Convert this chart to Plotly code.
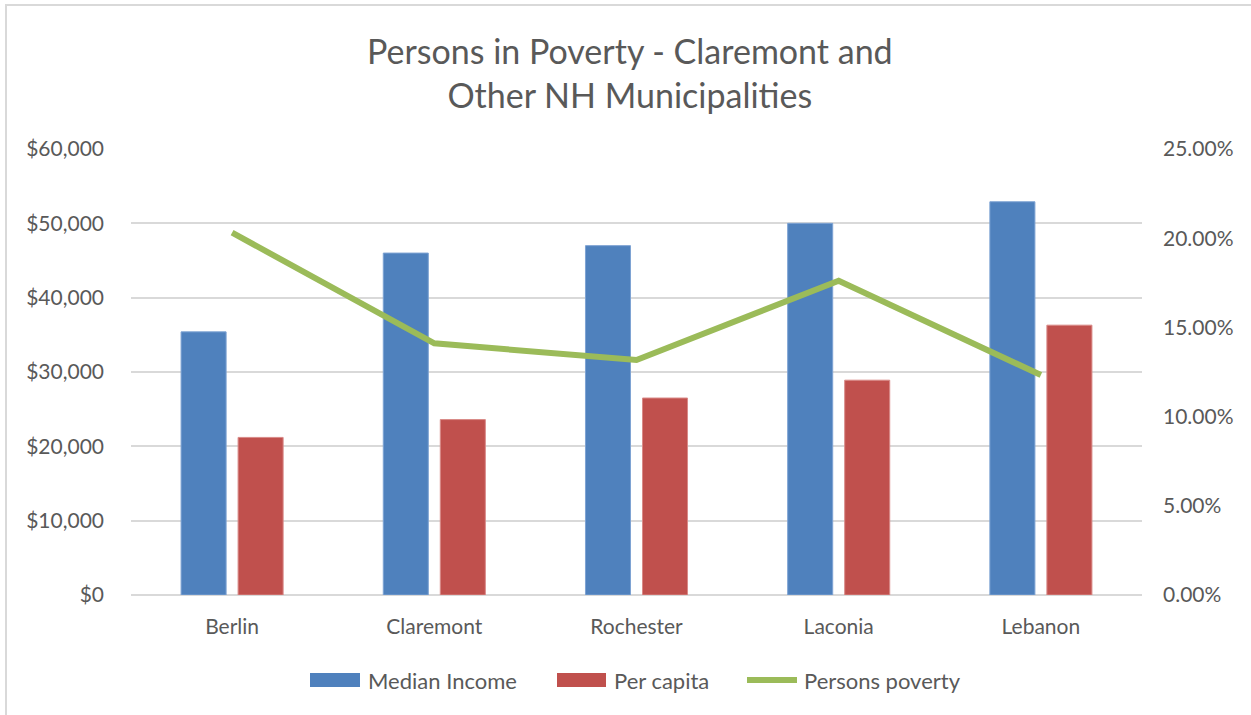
import plotly.graph_objects as go

categories = ["Berlin", "Claremont", "Rochester", "Laconia", "Lebanon"]
median_income = [35400, 46000, 47000, 50000, 52900]
per_capita = [21200, 23600, 26500, 28900, 36300]
persons_poverty = [0.2031, 0.1411, 0.1317, 0.1762, 0.1233]
series_names = ["Median Income", "Per capita", "Persons poverty"]
title_lines = ["Persons in Poverty - Claremont and", "Other NH Municipalities"]

BLUE = "#4F81BD"
RED = "#C0504D"
GREEN = "#9BBB59"
TXT = "#595959"
GRID = "#D9D9D9"
FONT = "Lato"

W, H = 1251, 715
L, R, T, B = 131, 1251 - 1142, 149, 715 - 595
PW, PH = W - L - R, H - T - B


def px(x):
    return (x - L) / PW


def py(y):
    return (H - B - y) / PH


fig = go.Figure()
fig.add_trace(go.Bar(x=categories, y=median_income, name=series_names[0],
                     marker=dict(color=BLUE, line=dict(color="#7EA3D3", width=1)),
                     showlegend=False))
fig.add_trace(go.Bar(x=categories, y=per_capita, name=series_names[1],
                     marker=dict(color=RED, line=dict(color="#D98A88", width=1)),
                     showlegend=False))
fig.add_trace(go.Scatter(x=categories, y=persons_poverty, name=series_names[2],
                         yaxis="y2", mode="lines",
                         line=dict(color=GREEN, width=6),
                         showlegend=False))

shapes = [
    # chart border
    dict(type="rect", xref="paper", yref="paper",
         x0=px(6), x1=px(1265), y0=py(725), y1=py(5),
         line=dict(color=GRID, width=2), fillcolor="rgba(0,0,0,0)", layer="below"),
]
annotations = [
    dict(text="<br>".join(title_lines), xref="paper", yref="paper",
         x=px(630), y=py(72), xanchor="center", yanchor="middle",
         showarrow=False, font=dict(family=FONT, size=34, color=TXT)),
]

# custom legend
leg_y = 680
legend_items = [
    (series_names[0], BLUE, "bar", 310, 360, 366),
    (series_names[1], RED, "bar", 557, 606, 612),
    (series_names[2], GREEN, "line", 744, 800, 802),
]
for name, col, kind, x0, x1, tx in legend_items:
    if kind == "bar":
        shapes.append(dict(type="rect", xref="paper", yref="paper",
                           x0=px(x0), x1=px(x1), y0=py(leg_y + 7), y1=py(leg_y - 7),
                           fillcolor=col, line=dict(width=0)))
    else:
        shapes.append(dict(type="line", xref="paper", yref="paper",
                           x0=px(x0 + 3), x1=px(x1 - 3), y0=py(leg_y), y1=py(leg_y),
                           line=dict(color=col, width=6)))
    annotations.append(dict(text=name, xref="paper", yref="paper",
                            x=px(tx), y=py(leg_y), xanchor="left", yanchor="middle",
                            showarrow=False, font=dict(family=FONT, size=22, color=TXT)))

fig.update_layout(
    width=W, height=H,
    margin=dict(l=L, r=R, t=T, b=B, pad=0),
    paper_bgcolor="white", plot_bgcolor="white",
    barmode="group", bargap=0.436, bargroupgap=0.21,
    font=dict(family=FONT, color=TXT, size=20),
    showlegend=False,
    xaxis=dict(showgrid=False, showline=False, zeroline=False, ticks="",
               tickfont=dict(family=FONT, size=21, color=TXT),
               ticklabelstandoff=17),
    yaxis=dict(range=[0, 60000], dtick=10000, tickformat="$,.0f",
               showgrid=True, gridcolor=GRID, gridwidth=2,
               zeroline=True, zerolinecolor=GRID, zerolinewidth=2,
               showline=False, ticks="",
               tickfont=dict(family=FONT, size=21, color=TXT),
               ticklabelstandoff=26),
    yaxis2=dict(range=[0, 0.25], dtick=0.05, tickformat=".2%",
                overlaying="y", side="right", showgrid=False,
                zeroline=False, showline=False, ticks="",
                tickfont=dict(family=FONT, size=21, color=TXT),
                ticklabelstandoff=20),
    shapes=shapes,
    annotations=annotations,
)

fig.write_html("out.html")
